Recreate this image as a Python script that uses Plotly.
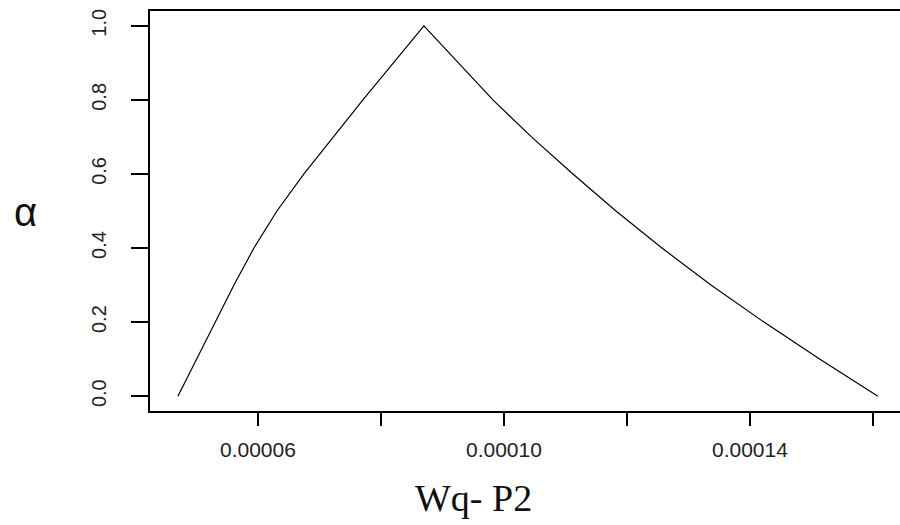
import plotly.graph_objects as go

# Data
wq = [4.699e-5, 5.000e-5, 5.301e-5, 5.610e-5, 5.935e-5, 6.309e-5, 6.748e-5,
      7.220e-5, 7.707e-5, 8.203e-5, 8.699e-5,
      9.260e-5, 9.821e-5, 1.0447e-4, 1.1122e-4, 1.1821e-4, 1.2569e-4,
      1.3366e-4, 1.4228e-4, 1.5138e-4, 1.6081e-4]
alpha = [0.0, 0.1, 0.2, 0.3, 0.4, 0.5, 0.6, 0.7, 0.8, 0.9, 1.0,
         0.9, 0.8, 0.7, 0.6, 0.5, 0.4, 0.3, 0.2, 0.1, 0.0]

x_tickvals = [6e-5, 8e-5, 1.0e-4, 1.2e-4, 1.4e-4, 1.6e-4]
x_ticktext = ["0.00006", "", "0.00010", "", "0.00014", ""]
y_tickvals = [0.0, 0.2, 0.4, 0.6, 0.8, 1.0]
y_ticktext = ["0.0", "0.2", "0.4", "0.6", "0.8", "1.0"]

fig = go.Figure()
fig.add_trace(go.Scatter(x=wq, y=alpha, mode="lines",
                         line=dict(color="black", width=1.2),
                         showlegend=False, hoverinfo="skip"))

L, R, T, B = 150, 0, 11, 114
fig.update_layout(
    width=900, height=525,
    margin=dict(l=L, r=R, t=T, b=B),
    paper_bgcolor="white", plot_bgcolor="white",
    font=dict(family="Liberation Sans, Arial, sans-serif", color="#222"),
)
fig.update_xaxes(
    range=[4.245e-5, 1.644e-4],
    tickmode="array", tickvals=x_tickvals, ticktext=x_ticktext,
    ticks="outside", ticklen=13, tickwidth=1.5, tickcolor="black",
    showline=True, linecolor="black", linewidth=1.5, mirror=True,
    showgrid=False, zeroline=False,
    tickfont=dict(size=21, color="#222"),
    ticklabelstandoff=6,
)
fig.update_yaxes(
    range=[-0.04, 1.04],
    tickmode="array", tickvals=y_tickvals, ticktext=y_ticktext,
    ticks="outside", ticklen=17, tickwidth=1.5, tickcolor="black",
    showline=True, linecolor="black", linewidth=1.5, mirror=False,
    showgrid=False, zeroline=False,
    tickangle=-90,
    tickfont=dict(size=20, color="#222"),
    ticklabelstandoff=17,
)

# axis titles
fig.add_annotation(text="α", xref="paper", yref="paper",
                   x=(25 - L) / (900 - L - R), y=(525 - B - 212) / (525 - T - B),
                   showarrow=False, xanchor="center", yanchor="middle",
                   font=dict(size=40, family="Liberation Sans, Arial, sans-serif", color="#111"))
fig.add_annotation(text="Wq- P2", xref="paper", yref="paper",
                   x=(473 - L) / (900 - L - R), y=(525 - B - 498) / (525 - T - B),
                   showarrow=False, xanchor="center", yanchor="middle",
                   font=dict(size=38, family="Liberation Serif, Times New Roman, serif", color="#111"))

fig.write_html("out.html",
               config={"displayModeBar": False},
               post_script="document.body.style.margin='0';document.body.style.overflow='hidden';")
